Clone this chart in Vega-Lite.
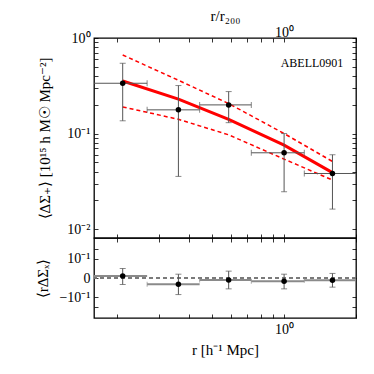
{
  "$schema": "https://vega.github.io/schema/vega-lite/v6.json",
  "background": "white",
  "padding": {"left": 35, "top": 7, "right": 5, "bottom": 5},
  "spacing": 0,
  "bounds": "flush",
  "config": {
    "view": {"stroke": "black", "strokeWidth": 1.3},
    "axis": {"domain": false, "grid": false, "tickColor": "black", "tickSize": -4, "tickWidth": 0.8, "labelPadding": 8,
      "labelFont": "Liberation Serif", "labelFontSize": 14, "labelColor": "black",
      "titleFont": "Liberation Serif", "titleFontSize": 15, "titleFontWeight": "normal", "titleColor": "black"},
    "text": {"font": "Liberation Serif"}
  },
  "datasets": {
    "pts": [
      {"r": 0.211, "rlo": 0.15, "rhi": 0.267, "ds": 0.336, "dslo": 0.136, "dshi": 0.544, "dx": 0.01, "dxlo": -0.034, "dxhi": 0.05},
      {"r": 0.361, "rlo": 0.267, "rhi": 0.443, "ds": 0.177, "dslo": 0.0356, "dshi": 0.318, "dx": -0.033, "dxlo": -0.087, "dxhi": 0.02},
      {"r": 0.586, "rlo": 0.443, "rhi": 0.729, "ds": 0.1995, "dslo": 0.130, "dshi": 0.275, "dx": -0.01, "dxlo": -0.057, "dxhi": 0.036},
      {"r": 1.0, "rlo": 0.729, "rhi": 1.215, "ds": 0.0629, "dslo": 0.0246, "dshi": 0.1, "dx": -0.017, "dxlo": -0.057, "dxhi": 0.02},
      {"r": 1.594, "rlo": 1.215, "rhi": 2.15, "ds": 0.0382, "dslo": 0.0162, "dshi": 0.060, "dx": -0.012, "dxlo": -0.048, "dxhi": 0.024}
    ],
    "model": [
      {"r": 0.211, "m": 0.355, "lo": 0.190, "hi": 0.664},
      {"r": 0.361, "m": 0.229, "lo": 0.141, "hi": 0.361},
      {"r": 0.586, "m": 0.141, "lo": 0.097, "hi": 0.206},
      {"r": 1.0, "m": 0.0756, "lo": 0.054, "hi": 0.1},
      {"r": 1.594, "m": 0.039, "lo": 0.0326, "hi": 0.051}
    ],
    "lbl": [{"r": 1.77, "v": 0.55, "t": "ABELL0901"}]
  },
  "resolve": {"scale": {"x": "independent", "y": "independent"}},
  "vconcat": [
    {
      "width": 262,
      "height": 200,
      "layer": [
        {
          "data": {"name": "model"},
          "mark": {"type": "line", "color": "#ff0000", "strokeWidth": 1.5, "strokeDash": [4, 3], "clip": true},
          "encoding": {
            "x": {"field": "r", "type": "quantitative", "scale": {"type": "log", "domain": [0.16, 2.0], "nice": false},
              "axis": {"orient": "bottom", "values": [0.2, 0.3, 0.4, 0.5, 0.6, 0.7, 0.8, 0.9, 1, 2], "labels": false, "title": null}},
            "y": {"field": "hi", "type": "quantitative", "scale": {"type": "log", "domain": [0.00807, 1], "nice": false},
              "axis": {"orient": "left", "title": "⟨ΔΣ₊⟩ [10¹⁵ h M☉ Mpc⁻²]", "titlePadding": 14,
                "values": [0.01, 0.02, 0.03, 0.04, 0.05, 0.06, 0.07, 0.08, 0.09, 0.1, 0.2, 0.3, 0.4, 0.5, 0.6, 0.7, 0.8, 0.9, 1],
                "labelExpr": "datum.value == 1 ? '10⁰' : datum.value == 0.1 ? '10⁻¹' : datum.value == 0.01 ? '10⁻²' : ''"}}
          }
        },
        {
          "data": {"name": "model"},
          "mark": {"type": "line", "color": "#ff0000", "strokeWidth": 1.5, "strokeDash": [4, 3], "clip": true},
          "encoding": {
            "x": {"field": "r", "type": "quantitative", "axis": {"orient": "top", "title": "r/r₂₀₀", "titlePadding": 2, "labelPadding": 3,
              "values": [0.2, 0.3, 0.4, 0.5, 0.6, 0.7, 0.8, 0.9, 1, 2],
              "labelExpr": "datum.value == 1 ? '10⁰' : ''"}},
            "y": {"field": "lo", "type": "quantitative", "axis": {"orient": "right", "labels": false, "title": null,
              "values": [0.01, 0.02, 0.03, 0.04, 0.05, 0.06, 0.07, 0.08, 0.09, 0.1, 0.2, 0.3, 0.4, 0.5, 0.6, 0.7, 0.8, 0.9, 1]}}
          }
        },
        {
          "data": {"name": "model"},
          "mark": {"type": "line", "color": "#ff0000", "strokeWidth": 3, "clip": true},
          "encoding": {
            "x": {"field": "r", "type": "quantitative", "axis": null},
            "y": {"field": "m", "type": "quantitative", "axis": null}
          }
        },
        {
          "data": {"name": "pts"},
          "mark": {"type": "rule", "color": "#555555", "strokeWidth": 1, "clip": true},
          "encoding": {
            "x": {"field": "rlo", "type": "quantitative", "axis": null},
            "x2": {"field": "rhi"},
            "y": {"field": "ds", "type": "quantitative", "axis": null}
          }
        },
        {
          "data": {"name": "pts"},
          "mark": {"type": "rule", "color": "#555555", "strokeWidth": 1, "clip": true},
          "encoding": {
            "x": {"field": "r", "type": "quantitative", "axis": null},
            "y": {"field": "dslo", "type": "quantitative", "axis": null},
            "y2": {"field": "dshi"}
          }
        },
        {
          "data": {"name": "pts"},
          "mark": {"type": "tick", "orient": "horizontal", "color": "#555555", "size": 6, "thickness": 1, "clip": true},
          "encoding": {
            "x": {"field": "r", "type": "quantitative", "axis": null},
            "y": {"field": "dslo", "type": "quantitative", "axis": null}
          }
        },
        {
          "data": {"name": "pts"},
          "mark": {"type": "tick", "orient": "horizontal", "color": "#555555", "size": 6, "thickness": 1, "clip": true},
          "encoding": {
            "x": {"field": "r", "type": "quantitative", "axis": null},
            "y": {"field": "dshi", "type": "quantitative", "axis": null}
          }
        },
        {
          "data": {"name": "pts"},
          "mark": {"type": "tick", "orient": "vertical", "color": "#555555", "size": 6, "thickness": 1, "clip": true},
          "encoding": {
            "x": {"field": "rlo", "type": "quantitative", "axis": null},
            "y": {"field": "ds", "type": "quantitative", "axis": null}
          }
        },
        {
          "data": {"name": "pts"},
          "mark": {"type": "tick", "orient": "vertical", "color": "#555555", "size": 6, "thickness": 1, "clip": true},
          "encoding": {
            "x": {"field": "rhi", "type": "quantitative", "axis": null},
            "y": {"field": "ds", "type": "quantitative", "axis": null}
          }
        },
        {
          "data": {"name": "pts"},
          "mark": {"type": "circle", "color": "black", "opacity": 1, "size": 30},
          "encoding": {
            "x": {"field": "r", "type": "quantitative", "axis": null},
            "y": {"field": "ds", "type": "quantitative", "axis": null}
          }
        },
        {
          "data": {"name": "lbl"},
          "mark": {"type": "text", "align": "right", "baseline": "middle", "fontSize": 12, "color": "black"},
          "encoding": {
            "x": {"field": "r", "type": "quantitative", "axis": null},
            "y": {"field": "v", "type": "quantitative", "axis": null},
            "text": {"field": "t"}
          }
        }
      ]
    },
    {
      "width": 262,
      "height": 80,
      "data": {"name": "pts"},
      "layer": [
        {
          "mark": {"type": "rule", "color": "#777777", "strokeWidth": 1, "strokeDash": [4, 3]},
          "encoding": {
            "y": {"datum": 0, "type": "quantitative", "scale": {"domain": [-0.21, 0.21], "nice": false},
              "axis": {"orient": "left", "title": "⟨rΔΣₓ⟩", "titlePadding": 8,
                "values": [-0.15, -0.1, 0, 0.1, 0.15],
                "labelExpr": "datum.value == 0.1 ? '10⁻¹' : datum.value == 0 ? '0' : datum.value == -0.1 ? '−10⁻¹' : ''"}}
          }
        },
        {
          "mark": {"type": "rule", "color": "#8a8a8a", "strokeWidth": 2, "clip": true},
          "encoding": {
            "x": {"field": "rlo", "type": "quantitative", "scale": {"type": "log", "domain": [0.16, 2.0], "nice": false},
              "axis": {"orient": "bottom", "title": "r [h⁻¹ Mpc]", "titlePadding": 6,
                "values": [0.2, 0.3, 0.4, 0.5, 0.6, 0.7, 0.8, 0.9, 1, 2],
                "labelExpr": "datum.value == 1 ? '10⁰' : ''"}},
            "x2": {"field": "rhi"},
            "y": {"field": "dx", "type": "quantitative", "axis": {"orient": "right", "labels": false, "title": null, "values": [-0.15, -0.1, 0, 0.1, 0.15]}}
          }
        },
        {
          "mark": {"type": "rule", "color": "#555555", "strokeWidth": 1},
          "encoding": {
            "x": {"field": "r", "type": "quantitative", "axis": {"orient": "top", "labels": false, "title": null, "values": [0.2, 0.3, 0.4, 0.5, 0.6, 0.7, 0.8, 0.9, 1, 2]}},
            "y": {"field": "dxlo", "type": "quantitative", "axis": null},
            "y2": {"field": "dxhi"}
          }
        },
        {
          "mark": {"type": "tick", "orient": "horizontal", "color": "#555555", "size": 6, "thickness": 1},
          "encoding": {
            "x": {"field": "r", "type": "quantitative", "axis": null},
            "y": {"field": "dxlo", "type": "quantitative", "axis": null}
          }
        },
        {
          "mark": {"type": "tick", "orient": "horizontal", "color": "#555555", "size": 6, "thickness": 1},
          "encoding": {
            "x": {"field": "r", "type": "quantitative", "axis": null},
            "y": {"field": "dxhi", "type": "quantitative", "axis": null}
          }
        },
        {
          "mark": {"type": "tick", "orient": "vertical", "color": "#8a8a8a", "size": 5, "thickness": 1, "clip": true},
          "encoding": {
            "x": {"field": "rlo", "type": "quantitative", "axis": null},
            "y": {"field": "dx", "type": "quantitative", "axis": null}
          }
        },
        {
          "mark": {"type": "circle", "color": "black", "opacity": 1, "size": 30},
          "encoding": {
            "x": {"field": "r", "type": "quantitative", "axis": null},
            "y": {"field": "dx", "type": "quantitative", "axis": null}
          }
        }
      ]
    }
  ]
}
